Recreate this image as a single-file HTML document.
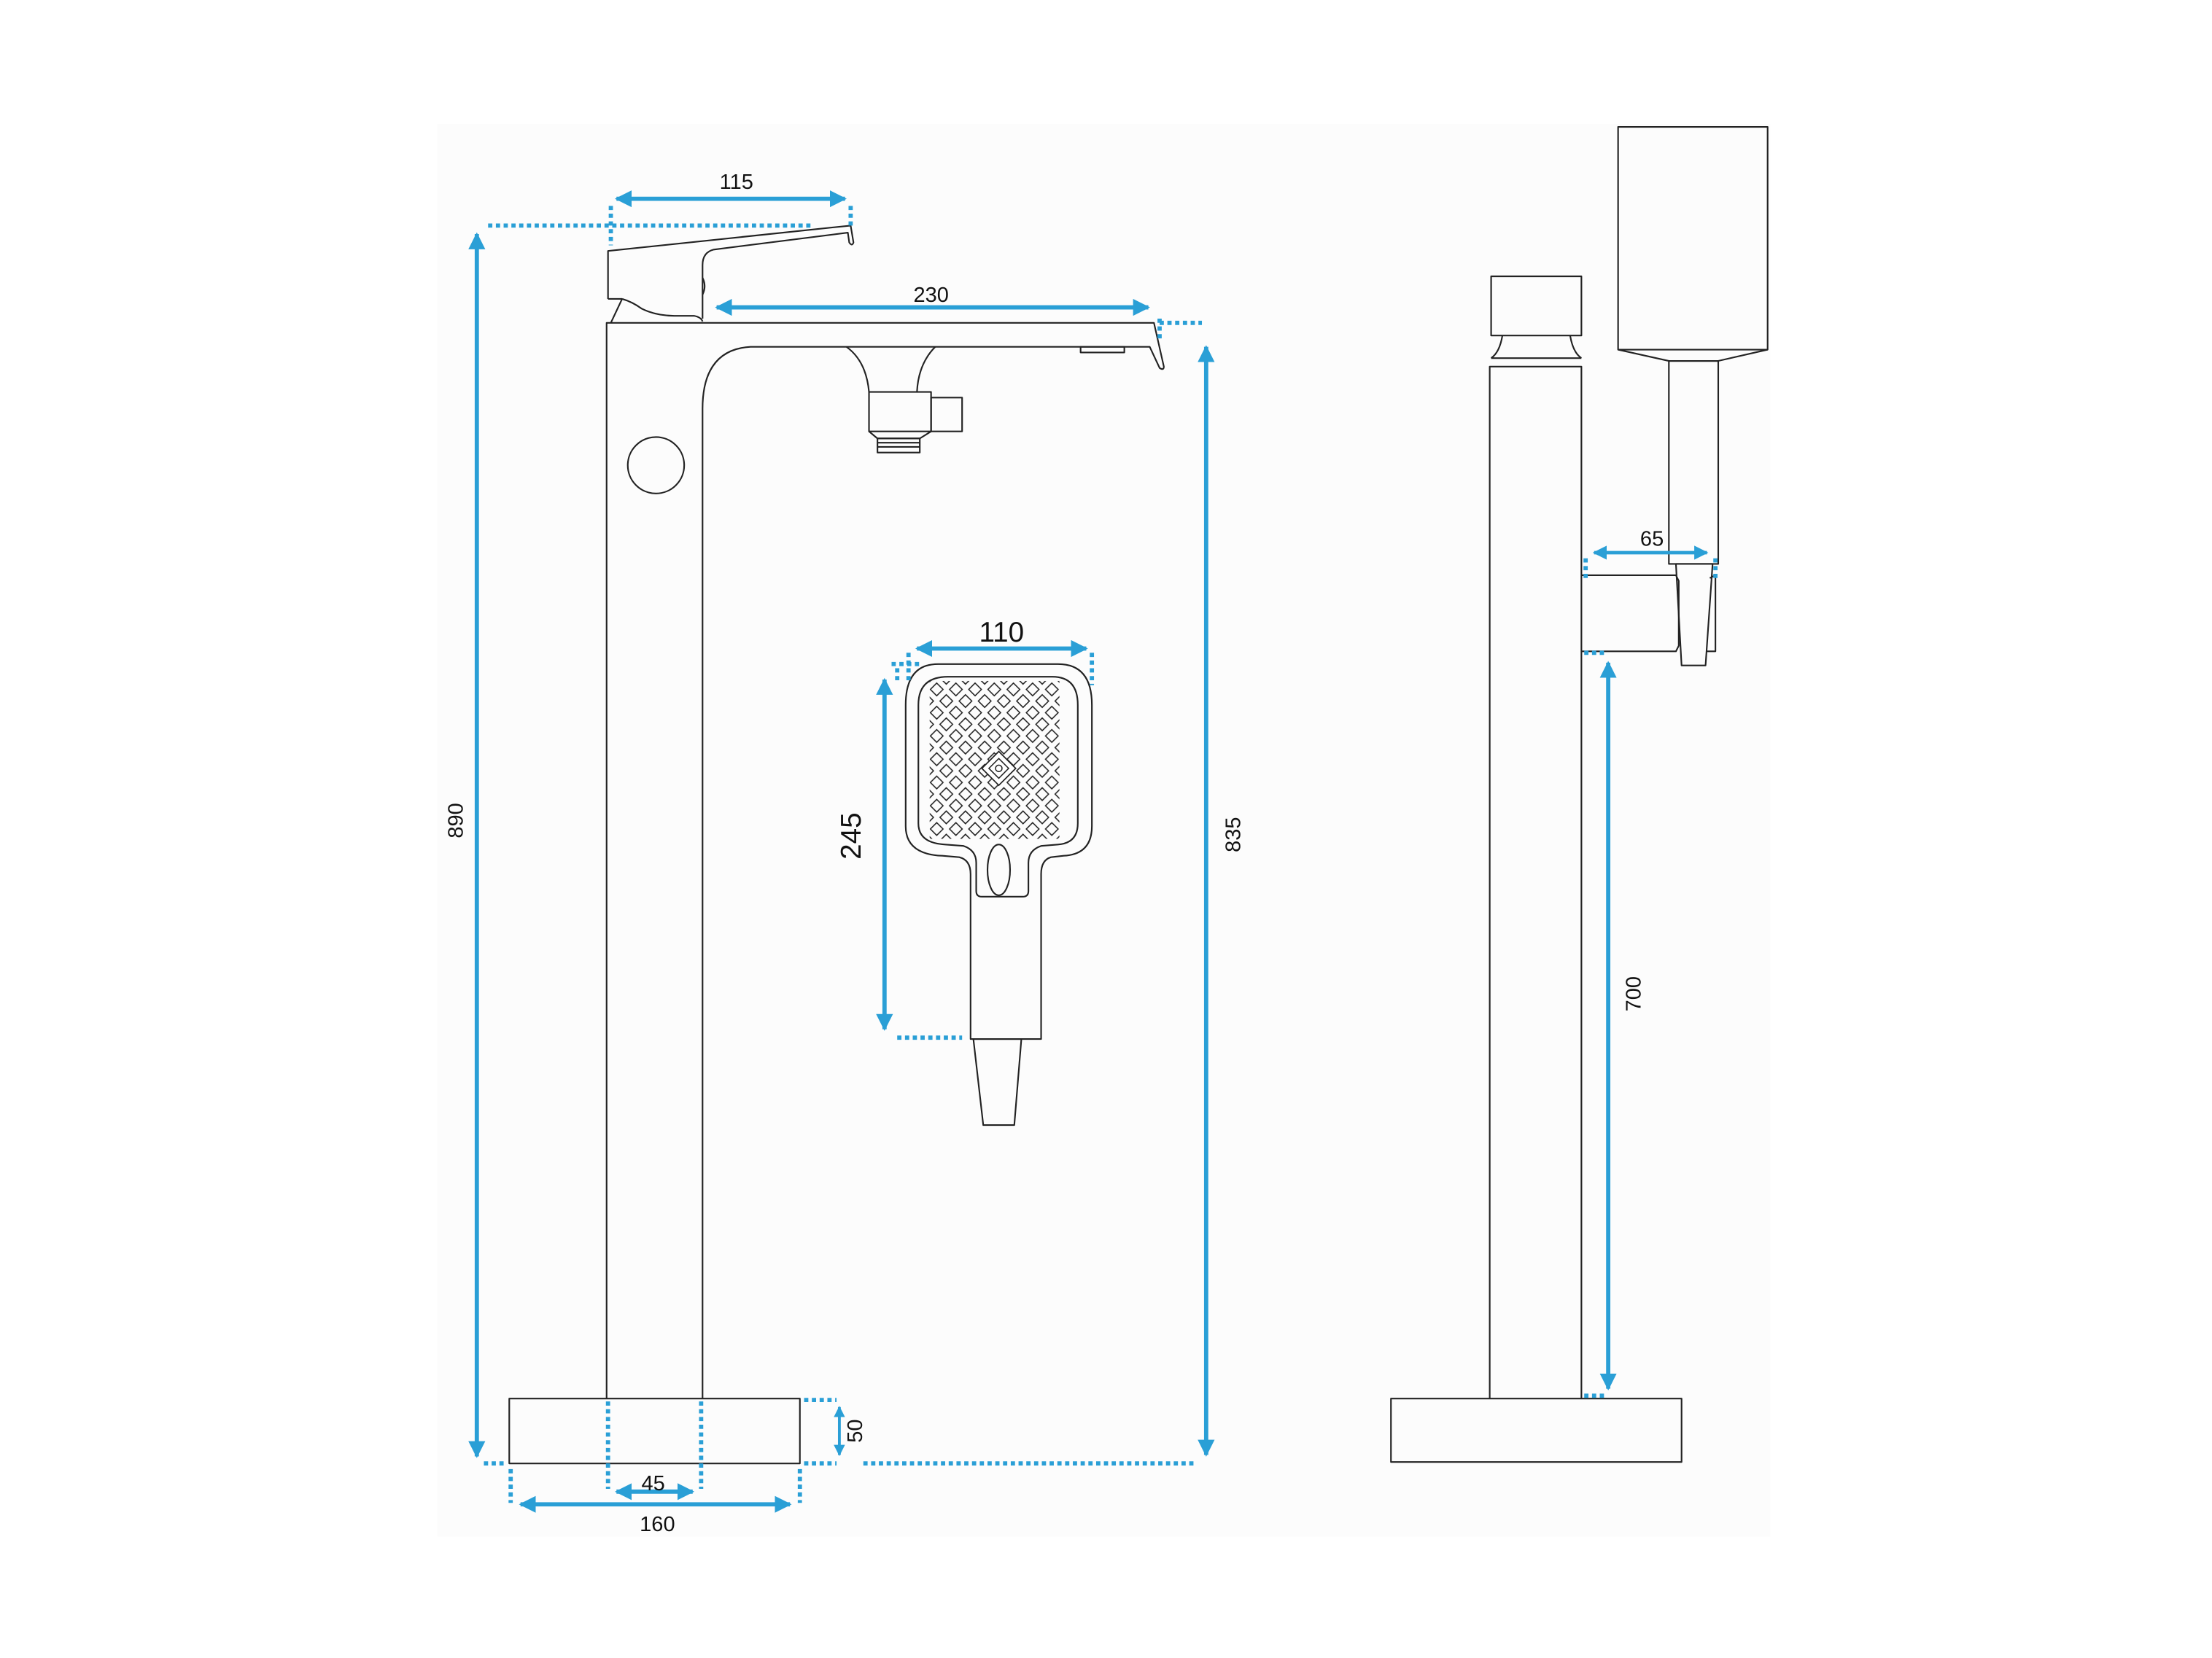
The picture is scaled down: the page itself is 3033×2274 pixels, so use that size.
<!DOCTYPE html>
<html><head><meta charset="utf-8"><style>html,body{margin:0;padding:0;background:#fff}svg{display:block}</style></head>
<body>
<svg width="3033" height="2274" viewBox="0 0 1568 1176" preserveAspectRatio="none" xmlns="http://www.w3.org/2000/svg">
<defs>
<marker id="ar" viewBox="0 0 10 10" refX="9" refY="5" markerWidth="4" markerHeight="4" orient="auto-start-reverse" markerUnits="strokeWidth"><path d="M0,0 L10,5 L0,10 z" fill="#2a9fd6"/></marker>
<pattern id="dia" patternUnits="userSpaceOnUse" x="664" y="489" width="13.6" height="16.5">
<g fill="none" stroke="#222" stroke-width="0.8">
<path d="M0,-4.5 L4.5,0 L0,4.5 L-4.5,0z"/><path d="M13.6,-4.5 L18.1,0 L13.6,4.5 L9.1,0z"/>
<path d="M0,12 L4.5,16.5 L0,21 L-4.5,16.5z"/><path d="M13.6,12 L18.1,16.5 L13.6,21 L9.1,16.5z"/>
<path d="M6.8,3.75 L11.3,8.25 L6.8,12.75 L2.3,8.25z"/>
</g></pattern>
</defs>
<rect x="310" y="88" width="945" height="1002" fill="#fcfcfc"/>
<g fill="none" stroke="#222" stroke-width="1.1" stroke-linejoin="round">
<rect x="361" y="992" width="206" height="46"/>
<path d="M430,992 L430,229 L818,229 L825,260 Q825,263 822,261 L815,246 L532,246 Q498,248 498,290 L498,992"/>
<rect x="766" y="246" width="31" height="4"/>
<path d="M431,212 L431,178 L603,160 L605,172 Q604,175 602,172 L601,165 L506,177 Q498,179 498,188 L498,226"/>
<path d="M441,212 L431,212 M441,212 Q448,214 455,219 Q465,224 478,224 L492,224 Q497,225 498,228 M441,212 L433,229"/>
<path d="M498,197 Q501,203 498,209"/>
<circle cx="465" cy="330" r="20"/>
<path d="M600,246 Q614,256 616,278 M663,246 Q651,258 650,278"/>
<rect x="616" y="278" width="44" height="28"/><rect x="660" y="282" width="22" height="24"/>
<path d="M616,306 L622,311 L652,311 L660,306"/>
<rect x="622" y="311" width="30" height="10"/>
<path d="M622,314 H652 M622,317 H652"/>
<path d="M665,471 L750,471 Q774,471 774,500 L774,586 Q774,606 754,607 L745,608 Q738,610 738,620 L738,737 L688,737 L688,620 Q688,610 680,608 L668,607 Q642,606 642,586 L642,500 Q642,471 665,471z"/>
<path d="M672,480 L746,480 Q764,480 764,500 L764,584 Q764,598 750,599 L738,600 Q729,603 729,612 L729,632 Q729,636 725,636 L696,636 Q692,636 692,632 L692,612 Q692,603 683,600 L670,599 Q651,598 651,584 L651,500 Q651,480 672,480z"/>
<ellipse cx="708" cy="617" rx="8" ry="18"/>
<path d="M690,737 L724,737 L719,798 L697,798z"/>
<rect x="986" y="992" width="206" height="45"/>
<path d="M1056,992 L1056,260 L1121,260 L1121,992"/>
<rect x="1057" y="196" width="64" height="42"/>
<path d="M1057,254 L1121,254 M1065,238 Q1063,250 1057,254 M1113,238 Q1115,250 1121,254"/>
<rect x="1147" y="90" width="106" height="158"/>
<path d="M1147,248 L1183,256 L1218,256 L1253,248"/>
<rect x="1183" y="256" width="35" height="144"/>
<path d="M1121,408 L1188,408 L1190,412 L1190,458 L1188,462 L1121,462"/>
<path d="M1188,400 L1214,400 L1209,472 L1192,472z"/>
<path d="M1212,410 L1216,408 L1216,462 L1210,462"/>
</g>
<rect x="659" y="483" width="92" height="112" fill="url(#dia)"/>
<path d="M708,533 L720,545 L708,557 L696,545z" fill="#fff" stroke="#222" stroke-width="0.9"/>
<path d="M708,538 L715,545 L708,552 L701,545z" fill="none" stroke="#222" stroke-width="0.8"/>
<circle cx="708" cy="545" r="2.3" fill="none" stroke="#222" stroke-width="0.8"/>
<g stroke="#2a9fd6" stroke-width="3" fill="none">
<path d="M338,1033 L338,166" marker-start="url(#ar)" marker-end="url(#ar)"/>
<path d="M437,141 L599,141" marker-start="url(#ar)" marker-end="url(#ar)"/>
<path d="M508,218 L814,218" marker-start="url(#ar)" marker-end="url(#ar)"/>
<path d="M855,1032 L855,246" marker-start="url(#ar)" marker-end="url(#ar)"/>
<path d="M595,998 L595,1032" stroke-width="2" marker-start="url(#ar)" marker-end="url(#ar)"/>
<path d="M437,1058 L491,1058" marker-start="url(#ar)" marker-end="url(#ar)"/>
<path d="M369,1067 L560,1067" marker-start="url(#ar)" marker-end="url(#ar)"/>
<path d="M650,460 L770,460" marker-start="url(#ar)" marker-end="url(#ar)"/>
<path d="M627,730 L627,482" marker-start="url(#ar)" marker-end="url(#ar)"/>
<path d="M1130,392 L1210,392" stroke-width="2.5" marker-start="url(#ar)" marker-end="url(#ar)"/>
<path d="M1140,985 L1140,470" marker-start="url(#ar)" marker-end="url(#ar)"/>
</g>
<g stroke="#2a9fd6" stroke-width="3" fill="none" stroke-dasharray="3 2.5">
<path d="M346,160 H575 M433,146 V174 M603,146 V160"/>
<path d="M343,1038 H358 M362,1042 V1066 M567,1042 V1066"/>
<path d="M822,229 H852 M822,226 V242"/>
<path d="M612,1038 H848"/>
<path d="M570,993 H593 M570,1038 H593"/>
<path d="M431,994 V1056 M497,994 V1056"/>
<path d="M644,463 V485 M774,463 V486 M632,471 H654 M636,474 V484"/>
<path d="M636,736 H682"/>
<path d="M1124,396 V410 M1216,396 V410"/>
<path d="M1123,463 H1138 M1123,990 H1138"/>
</g>
<g font-family="Liberation Sans, sans-serif" fill="#111" text-anchor="middle">
<text x="522" y="134" font-size="15">115</text>
<text x="660" y="214" font-size="15">230</text>
<text x="463" y="1057" font-size="15">45</text>
<text x="466" y="1086" font-size="15">160</text>
<text x="710" y="455" font-size="20">110</text>
<text x="1171" y="387" font-size="15">65</text>
<text transform="translate(328,582) rotate(-90)" font-size="15">890</text>
<text transform="translate(879,592) rotate(-90)" font-size="15">835</text>
<text transform="translate(611,1015) rotate(-90)" font-size="15">50</text>
<text transform="translate(610,593) rotate(-90)" font-size="20">245</text>
<text transform="translate(1163,705) rotate(-90)" font-size="15">700</text>
</g>
</svg>
</body></html>
